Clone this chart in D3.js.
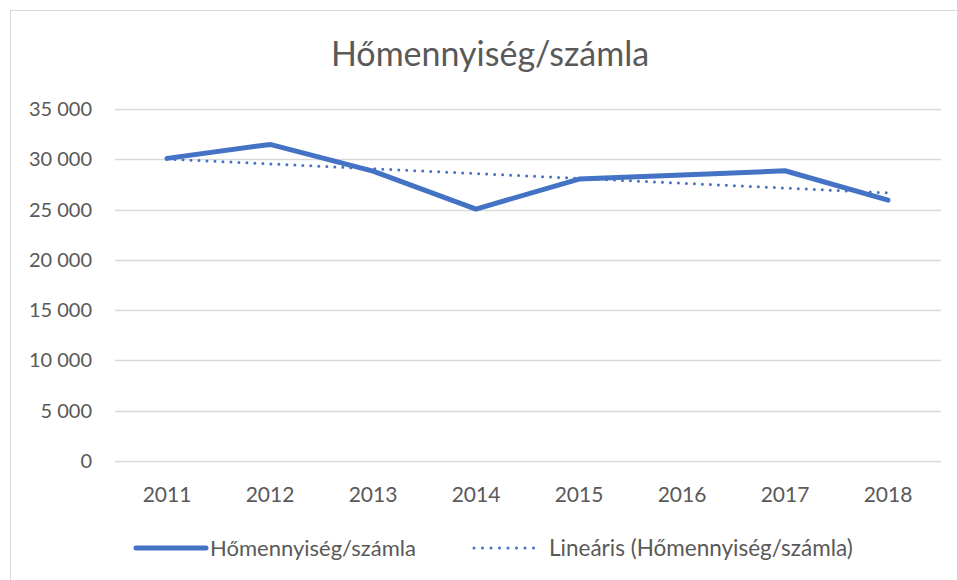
<!DOCTYPE html>
<html>
<head>
<meta charset="utf-8">
<script src="https://cdn.jsdelivr.net/npm/d3@7"></script>
<style>
  body { margin: 0; background: #fff; }
  text { font-family: Lato, "Open Sans", sans-serif; fill: #595959; }
</style>
</head>
<body>
<div id="chart"></div>
<script>
const years = ["2011", "2012", "2013", "2014", "2015", "2016", "2017", "2018"];
const values = [30090, 31480, 28830, 25050, 28030, 28430, 28860, 25940];
const yTicks = [0, 5000, 10000, 15000, 20000, 25000, 30000, 35000];
const seriesName = "Hőmennyiség/számla";
const trendName = "Lineáris (Hőmennyiség/számla)";

const width = 957, height = 580;
const blue = "#4472C4";

const svg = d3.select("#chart").append("svg")
    .attr("width", width)
    .attr("height", height);

// chart frame (right and bottom edges fall outside the picture)
svg.append("rect")
    .attr("x", 10.5).attr("y", 10.5)
    .attr("width", 960).attr("height", 600)
    .attr("fill", "none")
    .attr("stroke", "#d9d9d9");

const x = d3.scalePoint()
    .domain(years)
    .range([167, 888]);

const y = d3.scaleLinear()
    .domain([0, 35000])
    .range([461, 109]);

// gridlines
svg.append("g")
    .selectAll("line")
    .data(yTicks)
    .join("line")
    .attr("x1", 115).attr("x2", 941)
    .attr("y1", d => Math.round(y(d)) + 0.5)
    .attr("y2", d => Math.round(y(d)) + 0.5)
    .attr("stroke", "#d9d9d9")
    .attr("stroke-width", 1.3);

const fmt = d => d3.format(",")(d).replace(/,/g, " ");

svg.append("g")
    .selectAll("text")
    .data(yTicks)
    .join("text")
    .attr("x", 92)
    .attr("y", d => y(d))
    .attr("dy", "0.35em")
    .attr("text-anchor", "end")
    .style("font-size", "20px")
    .text(fmt);

svg.append("g")
    .selectAll("text")
    .data(years)
    .join("text")
    .attr("x", d => x(d))
    .attr("y", 495)
    .attr("dy", "0.35em")
    .attr("text-anchor", "middle")
    .style("font-size", "21px")
    .text(d => d);

// title
svg.append("text")
    .attr("x", 490)
    .attr("y", 66)
    .attr("text-anchor", "middle")
    .style("font-size", "34px")
    .text(seriesName);

// linear trend (least squares, as the spreadsheet does)
const idx = values.map((v, i) => i);
const mx = d3.mean(idx), my = d3.mean(values);
const slope = d3.sum(idx, i => (i - mx) * (values[i] - my)) / d3.sum(idx, i => (i - mx) ** 2);
const icpt = my - slope * mx;
const trend = idx.map(i => icpt + slope * i);

const line = d3.line()
    .x((d, i) => x(years[i]))
    .y(d => y(d));

svg.append("path")
    .datum(trend)
    .attr("d", line)
    .attr("fill", "none")
    .attr("stroke", blue)
    .attr("stroke-width", 3)
    .attr("stroke-linecap", "round")
    .attr("stroke-dasharray", "0 8");

svg.append("path")
    .datum(values)
    .attr("d", line)
    .attr("fill", "none")
    .attr("stroke", blue)
    .attr("stroke-width", 5)
    .attr("stroke-linejoin", "round")
    .attr("stroke-linecap", "round");

// legend
const legend = svg.append("g");
legend.append("line")
    .attr("x1", 136).attr("x2", 206)
    .attr("y1", 548).attr("y2", 548)
    .attr("stroke", blue)
    .attr("stroke-width", 5)
    .attr("stroke-linecap", "round");
legend.append("text")
    .attr("x", 210).attr("y", 548)
    .attr("dy", "0.35em")
    .style("font-size", "22px")
    .text(seriesName);

legend.append("line")
    .attr("x1", 474).attr("x2", 542)
    .attr("y1", 548).attr("y2", 548)
    .attr("stroke", blue)
    .attr("stroke-width", 3)
    .attr("stroke-linecap", "round")
    .attr("stroke-dasharray", "0 8.5");
legend.append("text")
    .attr("x", 549).attr("y", 548)
    .attr("dy", "0.35em")
    .style("font-size", "22.5px")
    .text(trendName);
</script>
</body>
</html>
